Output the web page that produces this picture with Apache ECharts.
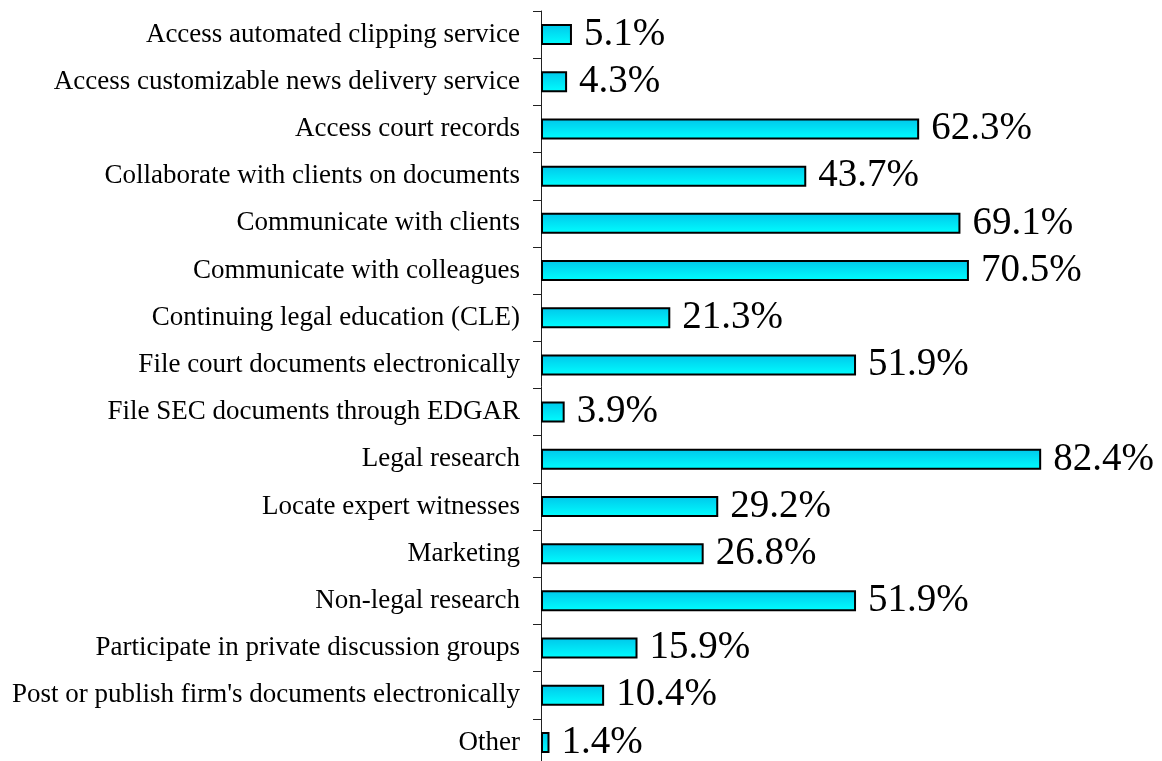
<!DOCTYPE html>
<html>
<head>
<meta charset="utf-8">
<script src="https://cdn.jsdelivr.net/npm/echarts@6/dist/echarts.min.js"></script>
<style>
  html, body { margin: 0; padding: 0; background: #fff; }
  #chart { width: 1162px; height: 761px; }
</style>
</head>
<body>
<div id="chart"></div>
<script>
// Online activities by share of respondents (%)
const categories = [
  'Access automated clipping service',
  'Access customizable news delivery service',
  'Access court records',
  'Collaborate with clients on documents',
  'Communicate with clients',
  'Communicate with colleagues',
  'Continuing legal education (CLE)',
  'File court documents electronically',
  'File SEC documents through EDGAR',
  'Legal research',
  'Locate expert witnesses',
  'Marketing',
  'Non-legal research',
  'Participate in private discussion groups',
  "Post or publish firm's documents electronically",
  'Other'
];
const values = [5.1, 4.3, 62.3, 43.7, 69.1, 70.5, 21.3, 51.9, 3.9, 82.4, 29.2, 26.8, 51.9, 15.9, 10.4, 1.4];

const serif = '"Liberation Serif", "Times New Roman", serif';

const chart = echarts.init(document.getElementById('chart'), null, { renderer: 'canvas' });
chart.setOption({
  animation: false,
  backgroundColor: '#ffffff',
  grid: {
    left: 541, width: 607, top: 11, height: 755,
    containLabel: false,
    outerBoundsMode: 'none'
  },
  xAxis: {
    type: 'value',
    min: 0,
    max: 100,
    show: false
  },
  yAxis: {
    type: 'category',
    data: categories,
    inverse: true,
    axisLine: { show: true, lineStyle: { color: '#222', width: 1 } },
    axisTick: { show: true, length: 8, inside: false, lineStyle: { color: '#222', width: 1 } },
    axisLabel: { margin: 21, color: '#000', fontFamily: serif, fontSize: 27 },
    splitLine: { show: false }
  },
  series: [{
    type: 'bar',
    data: values,
    barWidth: 21,
    itemStyle: {
      color: new echarts.graphic.LinearGradient(0, 0, 0, 1, [
        { offset: 0, color: '#00c6ea' },
        { offset: 1, color: '#00ffff' }
      ]),
      borderColor: '#000',
      borderWidth: 2
    },
    label: {
      show: true,
      position: 'right',
      distance: 12,
      color: '#000',
      fontFamily: serif,
      fontSize: 39,
      formatter: p => p.value.toFixed(1) + '%'
    }
  }]
});
</script>
</body>
</html>
